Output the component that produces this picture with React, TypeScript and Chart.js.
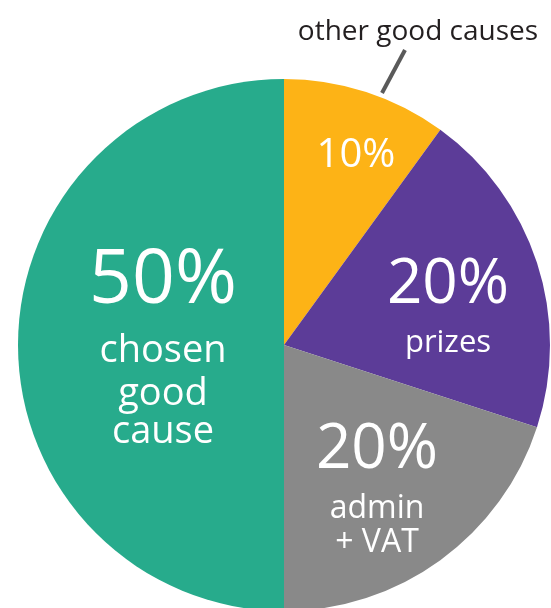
import React, { useEffect, useRef } from "react";
import { Chart, registerables } from "chart.js";

Chart.register(...registerables);

const categories = ["other good causes", "prizes", "admin + VAT", "chosen good cause"];
const shares = [10, 20, 20, 50];
const sliceColors = ["#FDB316", "#5C3C98", "#898989", "#27AB8C"];
// caption lines shown inside each slice under the percentage
const captionLines = [[], ["prizes"], ["admin", "+ VAT"], ["chosen", "good", "cause"]];
const calloutText = "other good causes";

const FONT = "'Open Sans', 'Noto Sans', sans-serif";

// layout of labels, offsets from pie centre in units of radius/266
const labelLayout = [
  { x: 72, pctBase: -178, pctSize: 40, capSize: 30, capBase: [] as number[] },
  { x: 164, pctBase: -42, pctSize: 62, capSize: 31, capBase: [7] },
  { x: 93, pctBase: 123, pctSize: 62, capSize: 32, capBase: [173, 207] },
  { x: -121, pctBase: -42, pctSize: 75, capSize: 38, capBase: [17, 60, 98] },
];

const labelPlugin = {
  id: "sliceLabels",
  afterDatasetsDraw(chart: any) {
    const ctx = chart.ctx as CanvasRenderingContext2D;
    const meta = chart.getDatasetMeta(0);
    const arc0 = meta.data[0] as any;
    const cx = arc0.x;
    const cy = arc0.y;
    const k = arc0.outerRadius / 266;
    ctx.save();
    ctx.textAlign = "center";
    ctx.textBaseline = "alphabetic";
    ctx.fillStyle = "#ffffff";
    shares.forEach((v, i) => {
      const L = labelLayout[i];
      ctx.font = `400 ${L.pctSize}px ${FONT}`;
      ctx.fillText(`${v}%`, cx + L.x * k, cy + L.pctBase * k);
      ctx.font = `400 ${L.capSize}px ${FONT}`;
      captionLines[i].forEach((t, j) => {
        ctx.fillText(t, cx + L.x * k, cy + L.capBase[j] * k);
      });
    });
    // callout for the first slice
    ctx.strokeStyle = "#5a5a5a";
    ctx.lineWidth = 4;
    ctx.lineCap = "butt";
    ctx.beginPath();
    ctx.moveTo(cx + 121 * k, cy - 295 * k);
    ctx.lineTo(cx + 98 * k, cy - 252 * k);
    ctx.stroke();
    ctx.fillStyle = "#231f20";
    ctx.font = `400 28px ${FONT}`;
    ctx.fillText(calloutText, cx + 134 * k, cy - 305 * k);
    ctx.restore();
  },
};

export default function App() {
  const ref = useRef<HTMLCanvasElement>(null);
  useEffect(() => {
    document.body.style.margin = "0";
    document.body.style.overflow = "hidden";
    const chart = new Chart(ref.current!, {
      type: "pie",
      data: {
        labels: categories,
        datasets: [
          {
            data: shares,
            backgroundColor: sliceColors,
            borderWidth: 0,
            clip: false as any,
          },
        ],
      },
      options: {
        responsive: false,
        animation: false,
        layout: { padding: { top: 79, left: 18, right: 1, bottom: 9 } },
        plugins: {
          legend: { display: false },
          tooltip: { enabled: false },
        },
      },
      plugins: [labelPlugin],
    });
    return () => chart.destroy();
  }, []);
  return (
    <div style={{ position: "absolute", left: 0, top: 0, width: 551, height: 608, overflow: "hidden", background: "#fff" }}>
      <canvas ref={ref} width={551} height={620} style={{ display: "block" }} />
    </div>
  );
}
